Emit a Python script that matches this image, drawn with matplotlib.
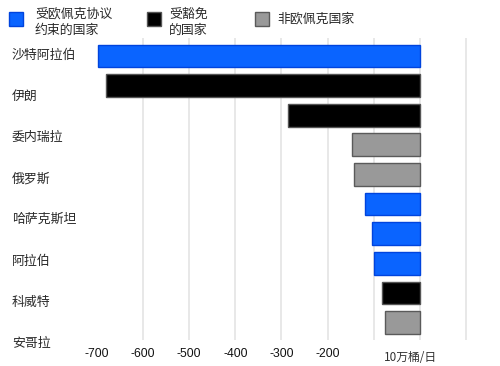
import matplotlib
matplotlib.use("Agg")
import matplotlib.pyplot as plt
from matplotlib.patches import Rectangle
import matplotlib.transforms as mtransforms

plt.rcParams['font.family'] = ['Noto Sans CJK SC', 'DejaVu Sans']

# ---- data ----
countries = ["沙特阿拉伯", "伊朗", "委内瑞拉", "俄罗斯", "哈萨克斯坦", "阿拉伯", "科威特", "安哥拉"]
bar_values = [-697, -680, -285, -148, -142, -118, -103, -99, -83, -76]
bar_groups = [0, 1, 1, 2, 2, 0, 0, 0, 1, 2]
group_names = ["受欧佩克协议\n约束的国家", "受豁免\n的国家", "非欧佩克国家"]
group_colors = ["#0a64ff", "#000000", "#999999"]
group_edges = ["#0044dd", "#555555", "#5a5a5a"]
xtick_values = [-700, -600, -500, -400, -300, -200]
xtick_labels = ["-700", "-600", "-500", "-400", "-300", "-200"]
grid_values = [-600, -500, -400, -300, -200, -100, 0, 100]
unit_label = "10万桶/日"

W, H = 500, 366
fig = plt.figure(figsize=(W / 100, H / 100), dpi=100)
fig.patch.set_facecolor("white")

ax_left, ax_right = 97, 489
ax_top, ax_bottom = 38, 340
ax = fig.add_axes([ax_left / W, (H - ax_bottom) / H, (ax_right - ax_left) / W, (ax_bottom - ax_top) / H])
ax.set_xlim(-700, 150)
ax.set_ylim(9.59, -0.61)
for s in ax.spines.values():
    s.set_visible(False)

for g in grid_values:
    ax.axvline(g, color="#e4e4e4", lw=1.2, zorder=0)

ypos = list(range(len(bar_values)))
for y, v, g in zip(ypos, bar_values, bar_groups):
    ax.barh(y, v, height=0.77, color=group_colors[g], edgecolor=group_edges[g],
            linewidth=1.0, zorder=2)

ax.set_yticks([])
ax.set_xticks(xtick_values)
ax.set_xticklabels(xtick_labels, fontsize=8.8, family=["Liberation Sans", "DejaVu Sans"], color="#111111")
ax.tick_params(axis="x", length=0, pad=6)

# country labels: evenly spaced along left side
n = len(countries)
label_span = 9.73
trans = mtransforms.blended_transform_factory(fig.transFigure, ax.transData)
for k, name in enumerate(countries):
    yk = -0.03 + label_span * k / (n - 1)
    ax.text(12 / W, yk, name, transform=trans, ha="left", va="center",
            fontsize=9.3, color="#2a2a2a", clip_on=False)

# unit label at the height of the tick labels
ax.text(-19.5, -0.035, unit_label,
        transform=mtransforms.blended_transform_factory(ax.transData, ax.transAxes),
        ha="center", va="top", fontsize=8.5, color="#333333", clip_on=False)

# legend
leg_items = [(9, 35), (147, 169), (255, 277)]
for (bx, tx), name, c, e in zip(leg_items, group_names, group_colors, group_edges):
    fig.patches.append(Rectangle((bx / W, (H - 26) / H), 14 / W, 14 / H, transform=fig.transFigure,
                                 facecolor=c, edgecolor=e, lw=1.0))
    ty = 22.5 if "\n" in name else 19
    fig.text(tx / W, (H - ty) / H, name, ha="left", va="center", fontsize=9.3,
             color="#2a2a2a", linespacing=1.3)

fig.savefig("out.png", dpi=100, facecolor="white")
